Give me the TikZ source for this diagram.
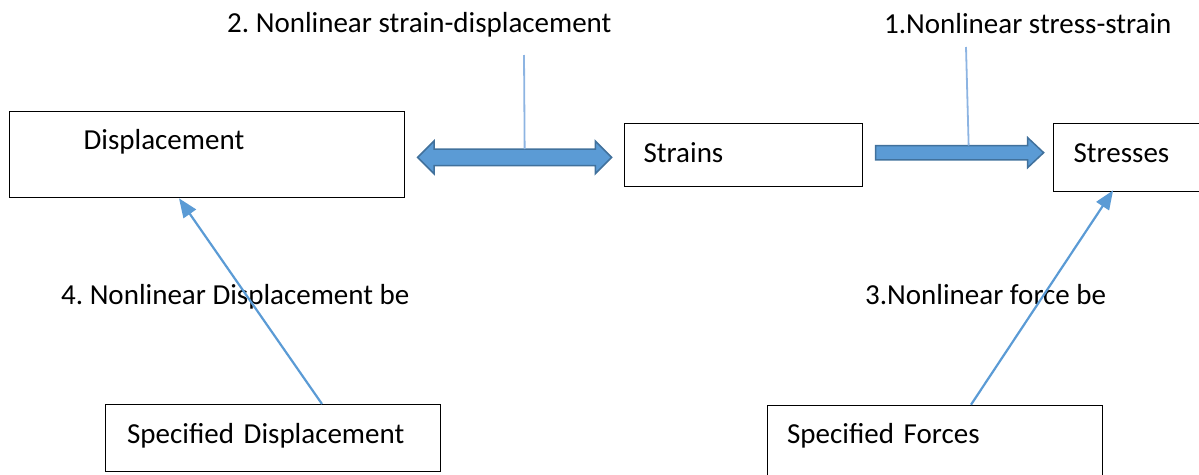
\documentclass[tikz,border=0pt]{standalone}
\usepackage{fontspec}
\setmainfont{Carlito}
\usetikzlibrary{arrows.meta,calc}
\frenchspacing

\definecolor{officeblue}{HTML}{5B9BD5}
\definecolor{officeedge}{HTML}{41719C}
\definecolor{leadblue}{HTML}{8DB4E2}

\tikzset{
  box/.style={draw, line width=1.3pt, anchor=north west, align=left, inner ysep=0pt},
  blockarrow/.style={draw=officeedge, fill=officeblue, line width=1.5pt, line join=miter},
  leader/.style={draw=leadblue, line width=1.8pt},
  thinarrow/.style={draw=officeblue, line width=2.2pt, -{Triangle[length=19pt,width=15pt]}},
  lbl/.style={anchor=base west, inner sep=0pt}
}

\begin{document}
\begin{tikzpicture}[x=1pt, y=-1pt, font=\fontsize{29pt}{35pt}\selectfont]
    \useasboundingbox (0,0) rectangle (1199,474);

    % boxes
    \node[box, minimum width=395pt, minimum height=86pt, inner xsep=74pt, text width=247pt, text height=38.3pt, text depth=47.7pt] (disp) at (9,111) {Displacement};
    \node[box, minimum width=238pt, minimum height=63pt, inner xsep=19pt, text width=200pt, text height=38.7pt, text depth=24.3pt] (strains) at (624,123) {Strains};
    \node[box, minimum width=240pt, minimum height=68pt, inner xsep=20pt, text width=200pt, text height=39pt, text depth=29pt] (stresses) at (1053,122.7) {Stresses};
    \node[box, minimum width=335pt, minimum height=66.7pt, inner xsep=21.5pt, text width=292pt, text height=39pt, text depth=27.7pt] (specdisp) at (105,404) {Specified Displacement};
    \node[box, minimum width=335pt, minimum height=75pt, inner xsep=19.5pt, text width=296pt, text height=38.3pt, text depth=36.7pt] (specforce) at (767,404.7) {Specified Forces};

    % labels
    \node[lbl] (lblsd) at (227,32) {2. Nonlinear strain-displacement};
    \node[lbl] (lblss) at (884,33) {1.Nonlinear stress-strain};
    \node[lbl] (lbldb) at (61,304) {4. Nonlinear Displacement be};
    \node[lbl] (lblfb) at (865,304) {3.Nonlinear force be};

    % block arrows
    \coordinate (link) at ($(disp.east)!0.5!(strains.west)+(0,2.45)$);
    \coordinate (flow) at ($(strains.east)!0.5!(stresses.west)+(1.5,-3.6)$);
    \path[blockarrow] (link) ++(-97,0) -- ++(16.35,-16.35) -- ++(0,8) -- ++(161.3,0) -- ++(0,-8)
        -- ++(16.35,16.35) -- ++(-16.35,16.35) -- ++(0,-8) -- ++(-161.3,0) -- ++(0,8) -- cycle;
    \path[blockarrow] (flow) ++(-84,-7.15) -- ++(152,0) -- ++(0,-7.85) -- ++(16,15)
        -- ++(-16,15) -- ++(0,-7.85) -- ++(-152,0) -- cycle;

    \coordinate (top2) at (524,55);
    \coordinate (top1) at (966,47);
    \draw[leader] (top2) -- ($(link)+(10,-8.35)$);
    \draw[leader] (top1) -- ($(flow)+(9,-7.15)$);

    \draw[thinarrow] ([xshift=217pt]specdisp.north west) -- ([xshift=170pt]disp.south west);
    \draw[thinarrow, shorten >=-2pt] ([xshift=204pt]specforce.north west) -- ([xshift=59pt]stresses.south west);
\end{tikzpicture}
\end{document}
